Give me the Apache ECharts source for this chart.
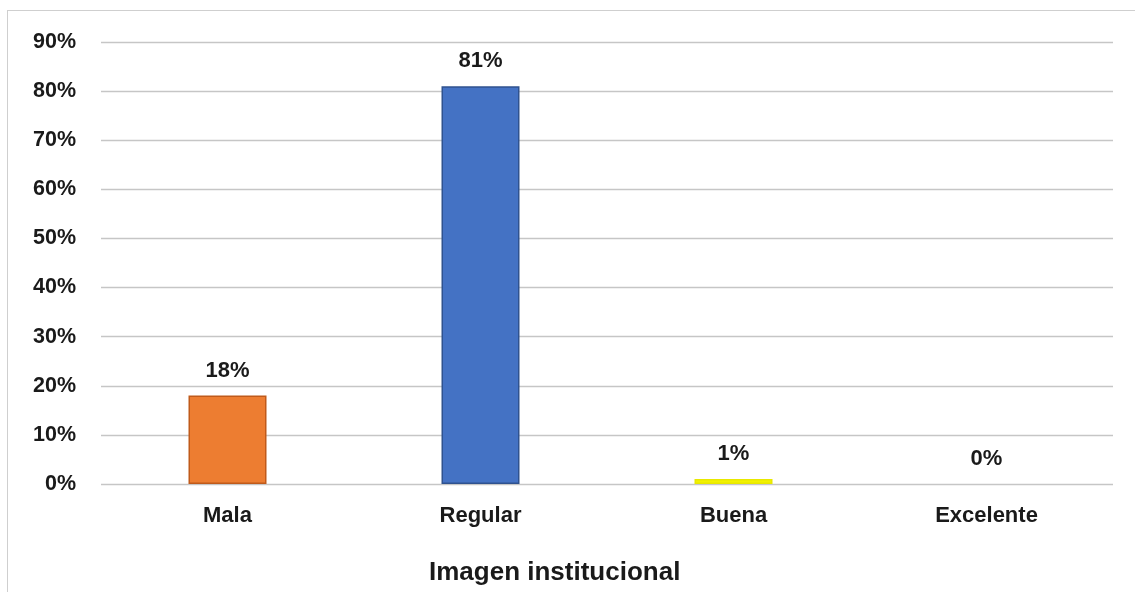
<!DOCTYPE html>
<html>
<head>
<meta charset="utf-8">
<script src="https://cdn.jsdelivr.net/npm/echarts@6/dist/echarts.min.js"></script>
<style>
  html, body { margin: 0; padding: 0; background: #fff; }
  #frame { position: absolute; left: 7px; top: 10px; width: 1140px; height: 600px; border-left: 1px solid #cfcfcf; border-top: 1px solid #cfcfcf; }
  #chart { position: absolute; left: 0; top: 0; width: 1135px; height: 592px; }
</style>
</head>
<body>
<div id="frame"></div>
<div id="chart"></div>
<script>
// datos del gráfico
const categories = ['Mala', 'Regular', 'Buena', 'Excelente']
const values = [18, 81, 1, 0]
const barColors = ['#ED7D31', '#4472C4', '#F2F200', '#A5A5A5']
const barBorders = ['#C05A1A', '#2F528F', '#E8E800', '#A5A5A5']
const axisTitle = 'Imagen institucional'

const chart = echarts.init(document.getElementById('chart'))
const textColor = '#1a1a1a'
const font = 'Liberation Sans, Arial, sans-serif'

const option = {
  animation: false,
  title: {
    text: axisTitle,
    left: 424,
    top: 555,
    textStyle: { fontFamily: font, fontSize: 26, fontWeight: 'bold', color: textColor }
  },
  grid: { left: 101, right: 22, top: 42, bottom: 108 },
  xAxis: {
    type: 'category',
    data: categories,
    axisLine: { show: false },
    axisTick: { show: false },
    axisLabel: { margin: 21, fontFamily: font, fontSize: 22, fontWeight: 'bold', color: textColor }
  },
  yAxis: {
    type: 'value',
    min: 0,
    max: 90,
    interval: 10,
    axisLine: { show: false },
    axisTick: { show: false },
    axisLabel: { margin: 25, formatter: '{value}%', fontFamily: font, fontSize: 21.5, fontWeight: 'bold', color: textColor },
    splitLine: { lineStyle: { color: '#c6c6c6', width: 1.3 } }
  },
  series: [
    {
      type: 'bar',
      barWidth: 78,
      data: values.map((v, i) => ({
        value: v,
        itemStyle: { color: barColors[i], borderColor: barBorders[i], borderWidth: v > 0 ? 1.5 : 0 }
      })),
      label: {
        show: true,
        position: 'top',
        distance: 14,
        formatter: '{c}%',
        fontFamily: font,
        fontSize: 22,
        fontWeight: 'bold',
        color: textColor
      }
    }
  ]
}
chart.setOption(option)
</script>
</body>
</html>
